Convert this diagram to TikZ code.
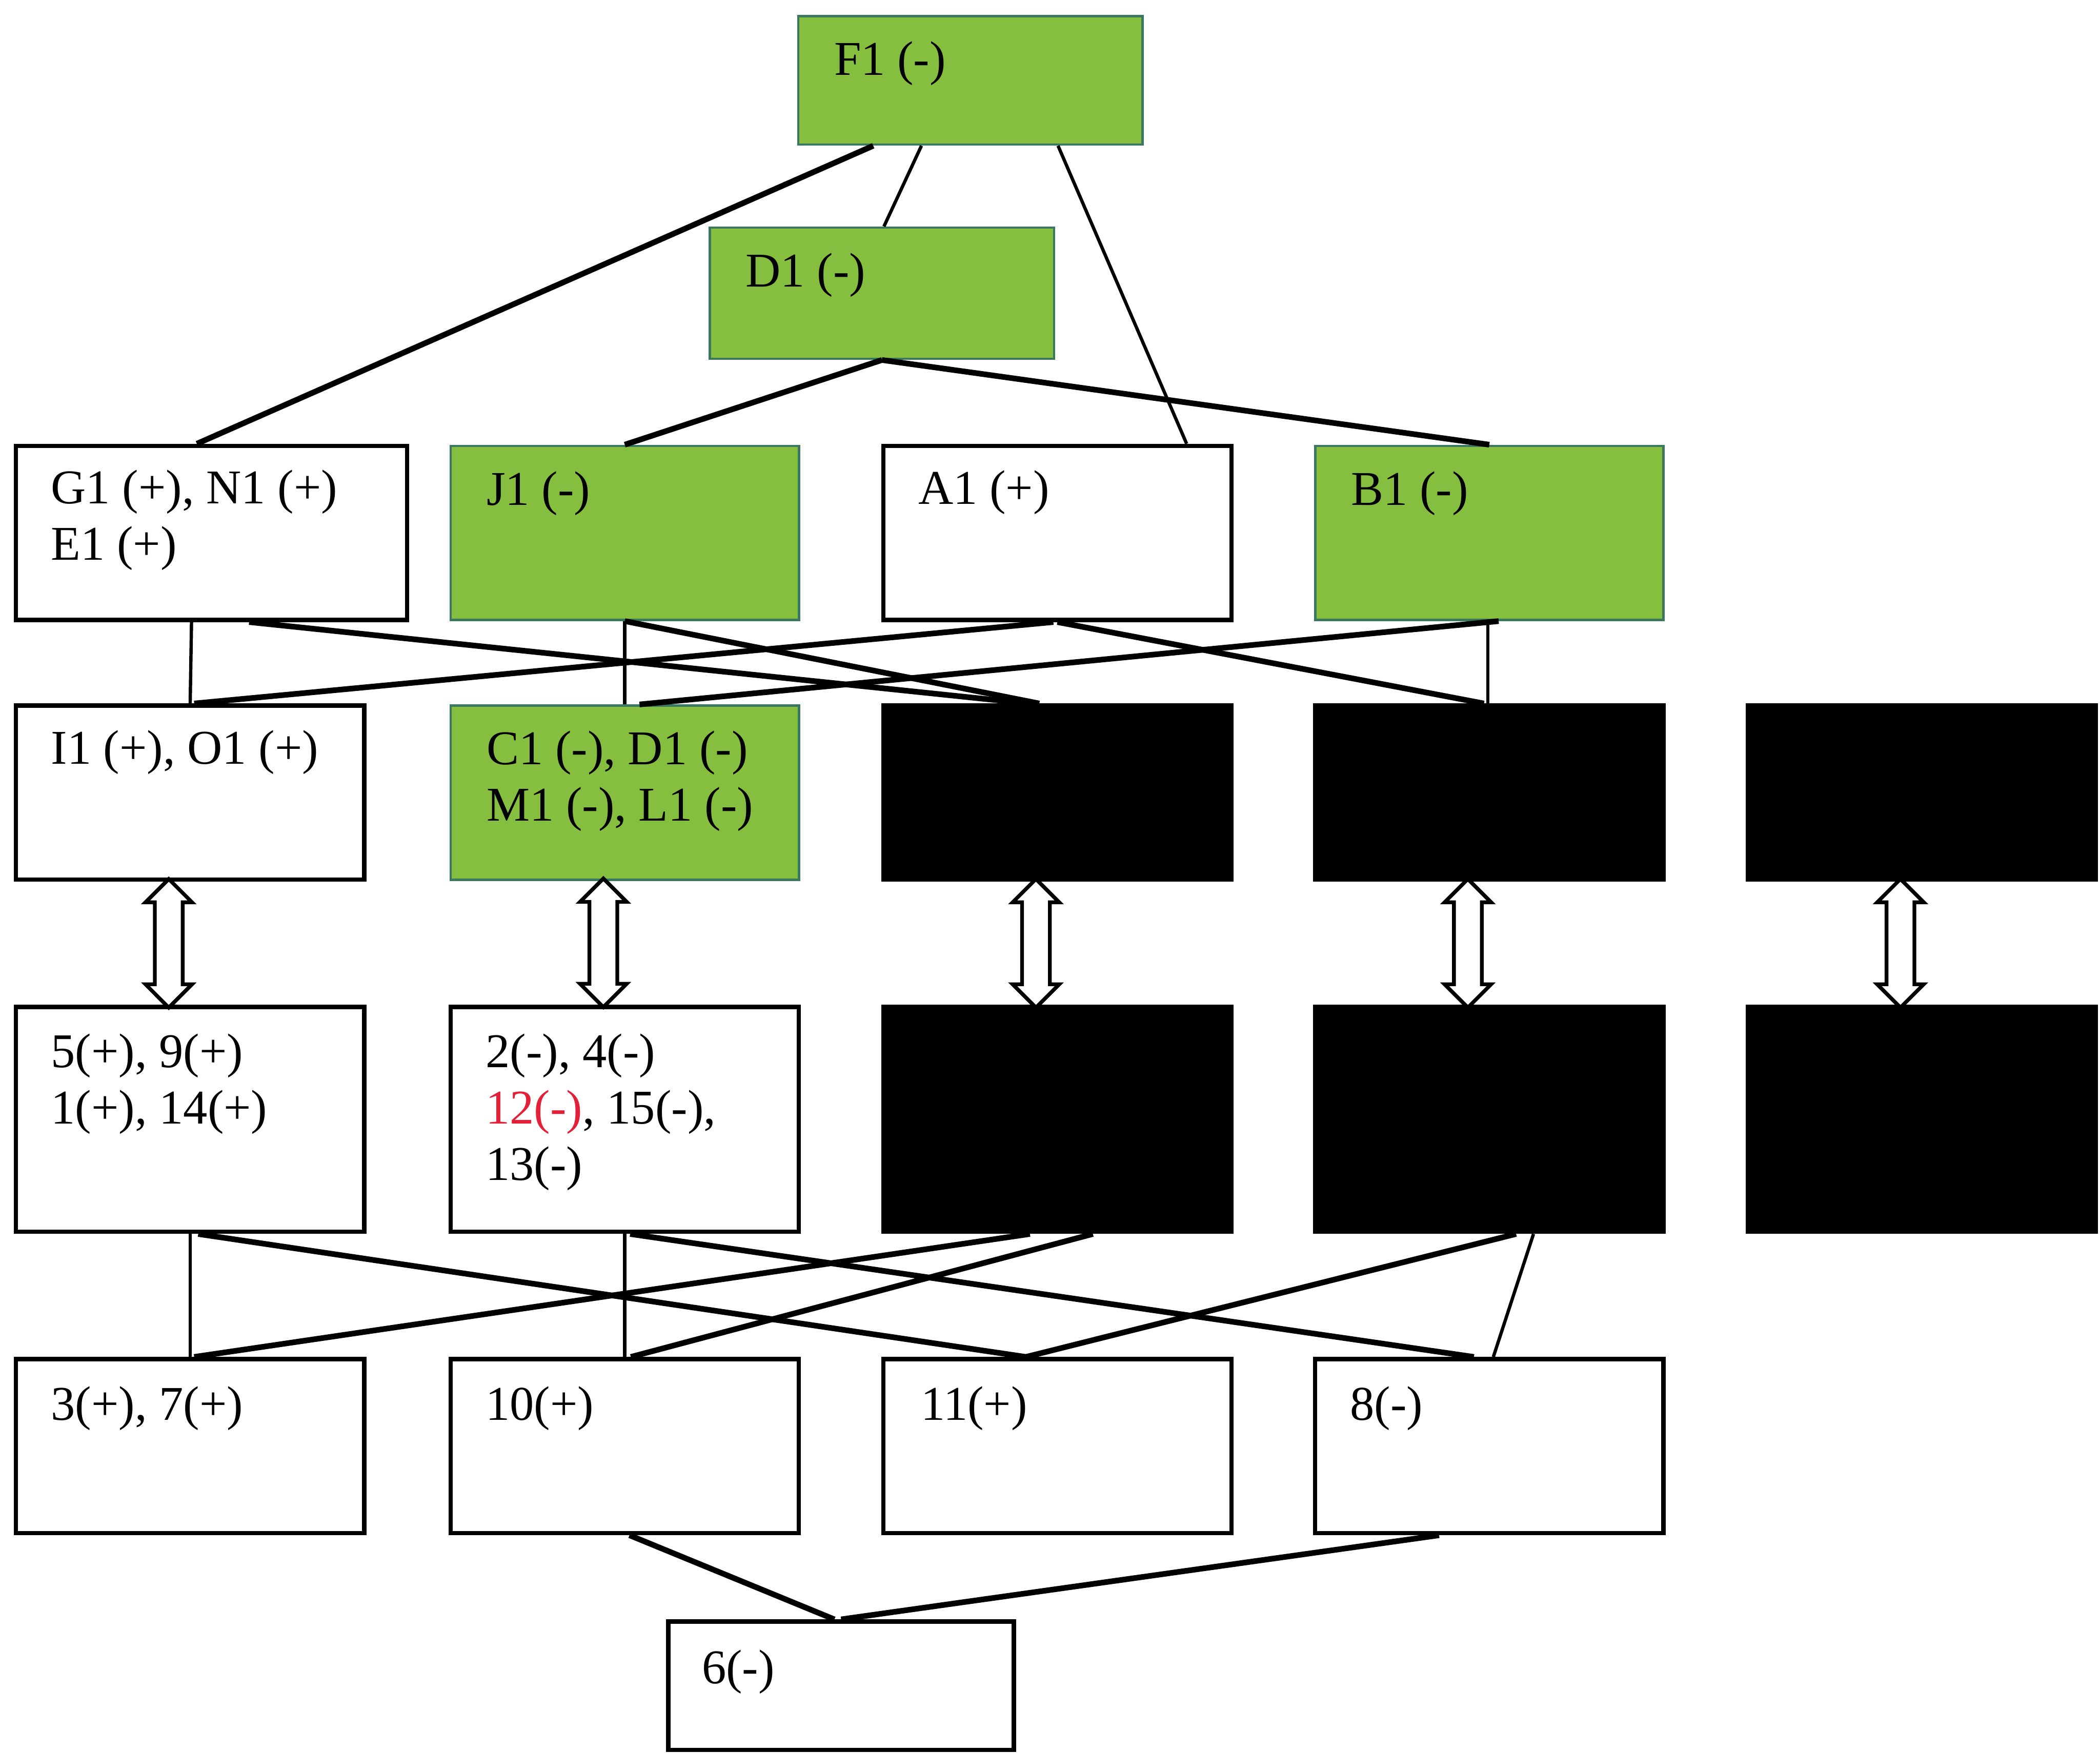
\documentclass[tikz,border=0pt]{standalone}
\usepackage{fontspec}
\setmainfont{Liberation Serif}
\usetikzlibrary{shapes.arrows}
\definecolor{leafgreen}{RGB}{134,190,64}
\definecolor{leafedge}{RGB}{60,120,95}
\definecolor{markred}{RGB}{228,32,56}

\begin{document}
\begin{tikzpicture}[
    box/.style={
        rectangle, draw=black, line width=0.9pt, fill=white,
        minimum width=2.6cm, minimum height=1.3cm, inner sep=0pt
    },
    gbox/.style={box, draw=leafedge, line width=0.5pt, fill=leafgreen},
    kbox/.style={box, fill=black},
    lbl/.style={
        anchor=base west, align=left, inner sep=0pt,
        font=\fontsize{10.3}{12}\selectfont
    },
    thn/.style={line width=0.7pt},
    thk/.style={line width=1.2pt},
    dblarr/.style={
        double arrow, draw=black, fill=white, line width=0.8pt, sloped,
        minimum height=0.96cm, inner sep=0.09cm, double arrow head extend=0.07cm
    },
]
\useasboundingbox (0,0) rectangle (15.68,-13.09);

% columns: 1.42, 4.665, 7.895, 11.12, 14.35
\node [gbox, minimum width=2.57cm, minimum height=0.96cm] (F1) at (7.245,-0.60) {};
\node [gbox, minimum width=2.57cm, minimum height=0.98cm] (D1) at (6.585,-2.19) {};

\node [box, minimum width=2.92cm] (G1) at (1.58,-3.98) {};
\node [gbox] (J1) at (4.665,-3.98) {};
\node [box]  (A1) at (7.895,-3.98) {};
\node [gbox] (B1) at (11.12,-3.98) {};

\node [box]  (I1) at (1.42,-5.92) {};
\node [gbox] (C1) at (4.665,-5.92) {};
\node [kbox] (K1) at (7.895,-5.92) {};
\node [kbox] (K2) at (11.12,-5.92) {};
\node [kbox] (K3) at (14.35,-5.92) {};

\node [box, minimum height=1.68cm]  (N5) at (1.42,-8.36) {};
\node [box, minimum height=1.68cm]  (N2) at (4.665,-8.36) {};
\node [kbox, minimum height=1.68cm] (K4) at (7.895,-8.36) {};
\node [kbox, minimum height=1.68cm] (K5) at (11.12,-8.36) {};
\node [kbox, minimum height=1.68cm] (K6) at (14.35,-8.36) {};

\node [box] (N3)  at (1.42,-10.80) {};
\node [box] (N10) at (4.665,-10.80) {};
\node [box] (N11) at (7.895,-10.80) {};
\node [box] (N8)  at (11.12,-10.80) {};

\node [box, minimum width=2.58cm, minimum height=0.96cm] (N6) at (6.28,-12.59) {};

% labels (base = last line)
\node [lbl] (tF1)  at ([shift={(0.27,-0.45)}]F1.north west) {F1 (-)};
\node [lbl] (tD1)  at ([shift={(0.27,-0.45)}]D1.north west) {D1 (-)};
\node [lbl] (tG1)  at ([shift={(0.27,-0.87)}]G1.north west) {G1 (+), N1 (+)\\E1 (+)};
\node [lbl] (tJ1)  at ([shift={(0.27,-0.45)}]J1.north west) {J1 (-)};
\node [lbl] (tA1)  at ([shift={(0.27,-0.45)}]A1.north west) {A1 (+)};
\node [lbl] (tB1)  at ([shift={(0.27,-0.45)}]B1.north west) {B1 (-)};
\node [lbl] (tI1)  at ([shift={(0.27,-0.45)}]I1.north west) {I1 (+), O1 (+)};
\node [lbl] (tC1)  at ([shift={(0.27,-0.87)}]C1.north west) {C1 (-), D1 (-)\\M1 (-), L1 (-)};
\node [lbl] (tN5)  at ([shift={(0.27,-0.89)}]N5.north west) {5(+), 9(+)\\1(+), 14(+)};
\node [lbl] (tN2)  at ([shift={(0.27,-1.31)}]N2.north west) {2(-), 4(-)\\\textcolor{markred}{12(-)}, 15(-),\\13(-)};
\node [lbl] (tN3)  at ([shift={(0.27,-0.47)}]N3.north west) {3(+), 7(+)};
\node [lbl] (tN10) at ([shift={(0.27,-0.47)}]N10.north west) {10(+)};
\node [lbl] (tN11) at ([shift={(0.29,-0.47)}]N11.north west) {11(+)};
\node [lbl] (tN8)  at ([shift={(0.27,-0.47)}]N8.north west) {8(-)};
\node [lbl] (tN6)  at ([shift={(0.26,-0.48)}]N6.north west) {6(-)};

% top levels
\draw[thk] ([xshift=-0.725cm]F1.south) -- ([xshift=-0.11cm]G1.north);
\draw[thn] ([xshift=-0.365cm]F1.south) -- ([xshift=0.015cm]D1.north);
\draw[thn] ([xshift=0.655cm]F1.south) -- ([xshift=0.965cm]A1.north);
\draw[thk] (D1.south) -- (J1.north);
\draw[thk] (D1.south) -- (B1.north);

\draw[thn] ([xshift=-0.15cm]G1.south) -- (I1.north);
\draw[thk] ([xshift=0.28cm]G1.south) -- ([xshift=-0.215cm]K1.north);
\draw[thn] (J1.south) -- (C1.north);
\draw[thk] (J1.south) -- ([xshift=-0.135cm]K1.north);
\draw[thk] ([xshift=-0.03cm]A1.south) -- ([xshift=0.03cm]I1.north);
\draw[thk] (A1.south) -- ([xshift=-0.04cm]K2.north);
\draw[thk] ([xshift=0.07cm]B1.south) -- ([xshift=0.11cm]C1.north);
\draw[thn] ([xshift=-0.01cm]B1.south) -- ([xshift=-0.01cm]K2.north);

% two-way arrows
\path ([xshift=-0.16cm]I1.south) -- node[dblarr] (R1) {} ([xshift=-0.16cm]N5.north);
\path ([xshift=-0.16cm]C1.south) -- node[dblarr] (R2) {} ([xshift=-0.16cm]N2.north);
\path ([xshift=-0.16cm]K1.south) -- node[dblarr] (R3) {} ([xshift=-0.16cm]K4.north);
\path ([xshift=-0.16cm]K2.south) -- node[dblarr] (R4) {} ([xshift=-0.16cm]K5.north);
\path ([xshift=-0.16cm]K3.south) -- node[dblarr] (R5) {} ([xshift=-0.16cm]K6.north);

% lower levels
\draw[thn] (N5.south) -- (N3.north);
\draw[thk] ([xshift=0.06cm]N5.south) -- ([xshift=-0.235cm]N11.north);
\draw[thn] (N2.south) -- (N10.north);
\draw[thk] ([xshift=0.04cm]N2.south) -- ([xshift=-0.115cm]N8.north);
\draw[thk] ([xshift=-0.205cm]K4.south) -- ([xshift=0.03cm]N3.north);
\draw[thk] ([xshift=0.265cm]K4.south) -- ([xshift=0.045cm]N10.north);
\draw[thk] ([xshift=0.20cm]K5.south) -- ([xshift=-0.235cm]N11.north);
\draw[thn] ([xshift=0.33cm]K5.south) -- ([xshift=0.03cm]N8.north);

\draw[thk] ([xshift=0.035cm]N10.south) -- ([xshift=-0.05cm]N6.north);
\draw[thk] ([xshift=-0.375cm]N8.south) -- (N6.north);

\end{tikzpicture}
\end{document}
